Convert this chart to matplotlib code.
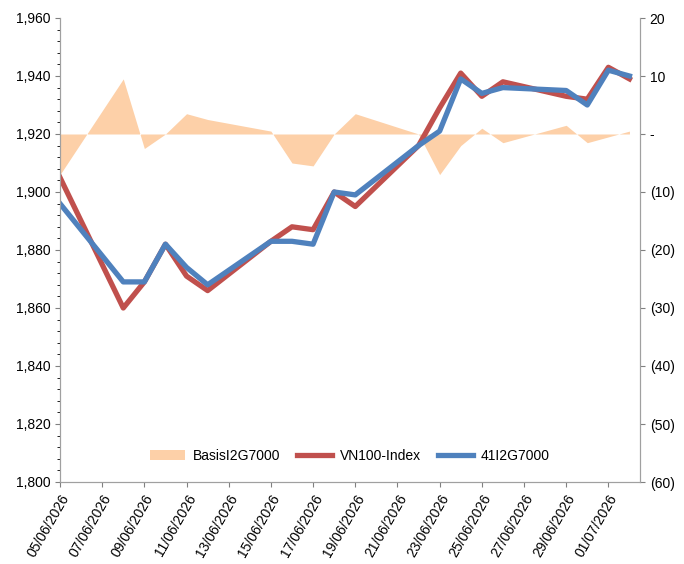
import pandas as pd
import numpy as np
import matplotlib
matplotlib.use("Agg")
import matplotlib.pyplot as plt
import matplotlib.dates as mdates
from matplotlib.ticker import FuncFormatter, MultipleLocator

plt.rcParams['font.family'] = ['Liberation Sans', 'DejaVu Sans']

dates = ["05/06/2026", "08/06/2026", "09/06/2026", "10/06/2026", "11/06/2026", "12/06/2026",
         "15/06/2026", "16/06/2026", "17/06/2026", "18/06/2026", "19/06/2026",
         "22/06/2026", "23/06/2026", "24/06/2026", "25/06/2026", "26/06/2026",
         "29/06/2026", "30/06/2026", "01/07/2026", "02/07/2026"]
vn100 = [1905, 1860, 1869, 1882, 1871, 1866, 1883, 1888, 1887, 1900, 1895,
         1916, 1929, 1941, 1933, 1938, 1933, 1932, 1943, 1939]
fut = [1896, 1869, 1869, 1882, 1874, 1868, 1883, 1883, 1882, 1900, 1899,
       1916, 1921, 1939, 1934, 1936, 1935, 1930, 1942, 1940]
basis = [-7, 9.5, -2.5, 0, 3.5, 2.5, 0.5, -5, -5.5, 0, 3.5,
         0, -7, -2, 1, -1.5, 1.5, -1.5, -0.5, 0.5]

x = pd.to_datetime(dates, format="%d/%m/%Y")

fig = plt.figure(figsize=(6.84, 5.64), dpi=100)
ax = fig.add_axes([60/684, 82/564, 580/684, 464/564])
ax2 = ax.twinx()
ax.set_zorder(ax2.get_zorder() + 1)
ax.patch.set_visible(False)

ax2.fill_between(x, 0, basis, color='#fdd0a8', linewidth=0, label='BasisI2G7000')
ax2.set_ylim(-60, 20)
ax2.yaxis.set_major_locator(MultipleLocator(10))
def fmt(v, p):
    if v == 0:
        return "-"
    return "(%d)" % -v if v < 0 else "%d" % v
ax2.yaxis.set_major_formatter(FuncFormatter(fmt))

ax.plot(x, vn100, color='#c0504d', lw=3.8, label='VN100-Index')
ax.plot(x, fut, color='#4f81bd', lw=3.8, label='41I2G7000')
ax.set_ylim(1800, 1960)
ax.yaxis.set_major_locator(MultipleLocator(20))
ax.yaxis.set_minor_locator(MultipleLocator(4))
ax.yaxis.set_major_formatter(FuncFormatter(lambda v, p: "{:,.0f}".format(v)))

ax.set_xlim(x[0], x[-1] + pd.Timedelta(hours=12))
ax.xaxis.set_major_locator(mdates.DayLocator(bymonthday=[5, 7, 9, 11, 13, 15, 17, 19, 21, 23, 25, 27, 29, 1]))
ax.xaxis.set_major_formatter(mdates.DateFormatter("%d/%m/%Y"))
plt.setp(ax.get_xticklabels(), rotation=60, ha='right', rotation_mode='anchor')

for a in (ax, ax2):
    a.spines['top'].set_visible(False)
    a.tick_params(labelsize=10, colors='#808080', labelcolor='black')
    for s in a.spines.values():
        s.set_color('#a0a0a0')

h1, l1 = ax2.get_legend_handles_labels()
h2, l2 = ax.get_legend_handles_labels()
ax.legend(h1 + h2, l1 + l2, loc='lower center', ncol=3, frameon=False,
          bbox_to_anchor=(0.5, 0.015), fontsize=10, handlelength=2.5,
          columnspacing=1.2, handletextpad=0.6)

fig.savefig("out.png", dpi=100)
